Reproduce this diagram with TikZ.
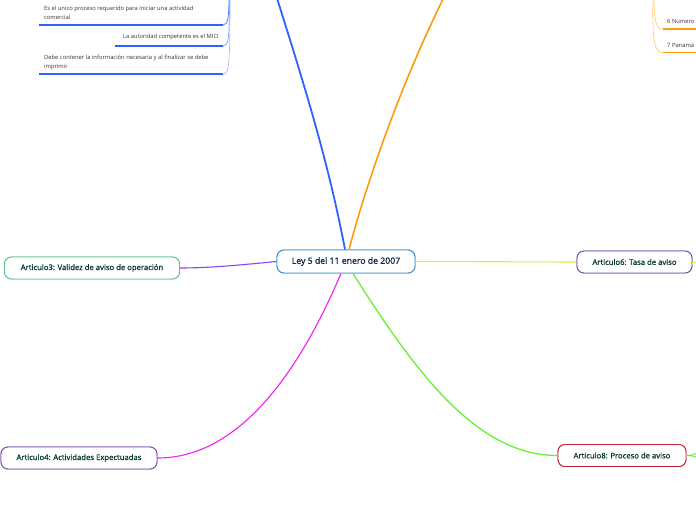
\documentclass[tikz,border=0pt]{standalone}
\usepackage{fontspec}
\setmainfont{Open Sans}
\newfontfamily\semifont[FakeBold=1.2]{Open Sans}
\definecolor{navy}{HTML}{0D2A4D}
\definecolor{dkgreen}{HTML}{0B3D2C}
\definecolor{txtgray}{HTML}{333333}
\definecolor{cblue}{HTML}{2E62FF}
\definecolor{lblue}{HTML}{7FA2FF}
\definecolor{corange}{HTML}{FF9A0E}
\definecolor{lorange}{HTML}{FFCC80}
\definecolor{cpurple}{HTML}{8A44F0}
\definecolor{cmagenta}{HTML}{F020F0}
\definecolor{cgreen}{HTML}{66F030}
\definecolor{cyellow}{HTML}{D4F040}
\definecolor{bblue}{HTML}{3A8FD0}
\definecolor{bgreen}{HTML}{5FC48A}
\definecolor{bpurple}{HTML}{7B4FA8}
\definecolor{bred}{HTML}{C4203C}
\tikzset{
  topic/.style={draw, rounded corners=7pt, line width=0.9pt, fill=white, inner sep=0pt, font=\semifont\fontsize{7.7}{9}\selectfont, text=dkgreen, minimum height=22pt},
  central/.style={topic, text=navy, font=\semifont\fontsize{8.7}{10}\selectfont, draw=bblue, minimum height=23pt},
  sub/.style={font=\fontsize{5.8}{8.4}\selectfont, text=txtgray, inner sep=0pt, align=left},
  uline/.style={line width=1.7pt},
}
\begin{document}
\begin{tikzpicture}[x=1pt,y=-1pt]
\useasboundingbox (0,0) rectangle (696,520);
\clip (0,0) rectangle (696,520);
% nodes
\node[central, minimum width=138pt] (c) at (346,261.5) {Ley 5 del 11 enero de 2007};
\node[topic, draw=bgreen, minimum width=175pt] (a3) at (92,268) {Articulo3: Validez de aviso de operación};
\node[topic, draw=bpurple, minimum width=115pt] (a6) at (634.5,262) {Articulo6: Tasa de aviso};
\node[topic, draw=bpurple, minimum width=156pt] (a4) at (79,458) {Articulo4: Actividades Expectuadas};
\node[topic, draw=bred, minimum width=128pt] (a8) at (622,455.5) {Articulo8: Proceso de aviso};
% off-canvas anchors
\coordinate (tb) at (268,-30);
\coordinate (to) at (458,-30);
% main connectors
\draw[cblue, line width=1.8pt] (c.north) ++(-1,0) coordinate (cb) .. controls (328,160) and (303,80) .. (tb);
\draw[corange, line width=1.6pt] (c.north) ++(3,0) coordinate (co) .. controls (370,170) and (410,60) .. (to);
\draw[cpurple, line width=1.1pt] (c.west) .. controls (240,265) and (210,268) .. (a3.east);
\draw[cyellow, line width=1.1pt] (c.east) -- (a6.west);
\draw[cmagenta, line width=1.1pt] (c.south) ++(-5,0) coordinate (cm) .. controls (300,370) and (240,458) .. (a4.east);
\draw[cgreen, line width=1.3pt] (c.south) ++(7,0) coordinate (cg) .. controls (420,380) and (480,455.5) .. (a8.west);
% redraw nodes on top
\node[central, minimum width=138pt] at (346,261.5) {Ley 5 del 11 enero de 2007};
\node[topic, draw=bgreen, minimum width=175pt] at (92,268) {Articulo3: Validez de aviso de operación};
\node[topic, draw=bpurple, minimum width=115pt] at (634.5,262) {Articulo6: Tasa de aviso};
\node[topic, draw=bpurple, minimum width=156pt] at (79,458) {Articulo4: Actividades Expectuadas};
\node[topic, draw=bred, minimum width=128pt] at (622,455.5) {Articulo8: Proceso de aviso};
% stubs
\coordinate (s6) at (700,262);
\draw[cyellow, line width=1pt] (a6.east) -- (s6);
\coordinate (s8a) at (700,451);
\coordinate (s8b) at (700,459);
\draw[cgreen, line width=1pt] (a8.east) .. controls (692,455.5) .. (s8a);
\draw[cgreen, line width=1pt] (a8.east) .. controls (692,455.5) .. (s8b);
% top-left subtopics
\node[sub, anchor=north west] (t1) at (44,6) {Es el unico proceso requerido para iniciar una actividad\\comercial};
\node[sub, anchor=north east] (t2) at (219,34) {La autoridad competente es el MICI};
\node[sub, anchor=north west] (t3) at (44,55) {Debe contener la información necesaria y al finalizar se debe\\imprimir};
\coordinate (u1a) at (39,25); \coordinate (u1b) at (223,25);
\coordinate (u2a) at (115,46); \coordinate (u2b) at (223,46);
\coordinate (u3a) at (39,74); \coordinate (u3b) at (223,74);
\draw[cblue, uline] (u1a) -- (u1b);
\draw[cblue, uline] (u2a) -- (u2b);
\draw[cblue, uline] (u3a) -- (u3b);
\coordinate (k1) at (229,-5);
\coordinate (k2) at (229.5,-5);
\coordinate (k3) at (230,-5);
\draw[cblue!80!white, line width=0.8pt] (k1) .. controls (229,18) and (228,25) .. (u1b);
\draw[lblue, line width=0.7pt] (k2) .. controls (229.5,40) and (228.5,46) .. (u2b);
\draw[lblue!80!white, line width=0.6pt] (k3) .. controls (230,68) and (229,74) .. (u3b);
% top-right subtopics
\node[sub, anchor=west] (r1) at (667,21) {6 Numero};
\node[sub, anchor=west] (r2) at (667,45) {7 Panamá};
\coordinate (o1a) at (663,29); \coordinate (o1b) at (700,29);
\coordinate (o2a) at (663,52.5); \coordinate (o2b) at (700,52.5);
\draw[corange, uline] (o1a) -- (o1b);
\draw[corange, uline] (o2a) -- (o2b);
\coordinate (m1) at (654,-5);
\coordinate (m2) at (653,-5);
\draw[lorange, line width=0.7pt] (m1) .. controls (654,22) and (656,29) .. (o1a);
\draw[lorange, line width=0.7pt] (m2) .. controls (652,45) and (655,52.5) .. (o2a);
\end{tikzpicture}
\end{document}
